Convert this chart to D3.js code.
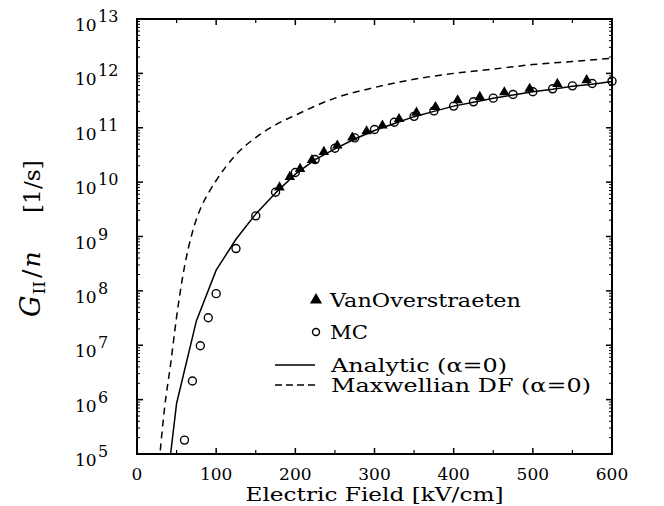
<!DOCTYPE html>
<html>
<head>
<meta charset="utf-8">
<script src="https://cdn.jsdelivr.net/npm/d3@7"></script>
<style>
  body { margin: 0; background: #fff; }
</style>
</head>
<body>
<div id="chart"></div>
<script>
// data
var analytic_E = [40, 50, 75, 100, 125, 150, 175, 200, 225, 250, 275, 300, 325, 350, 375, 400, 425, 450, 475, 500, 525, 550, 575, 600];
var analytic_G = [5.0e4, 8.5e5, 2.8e7, 2.4e8, 8.9e8, 2.6e9, 6.3e9, 1.4e10, 2.6e10, 4.1e10, 6.2e10, 8.9e10, 1.2e11, 1.6e11, 2.0e11, 2.5e11, 2.95e11, 3.5e11, 4.0e11, 4.6e11, 5.1e11, 5.8e11, 6.3e11, 7.1e11];

var maxw_E = [28, 35, 42, 50, 60, 70, 80, 90, 100, 125, 150, 175, 200, 250, 300, 350, 400, 450, 500, 550, 600];
var maxw_G = [7e4, 7.4e5, 4.0e6, 3.3e7, 2.8e8, 1.2e9, 3.2e9, 6.2e9, 1.07e10, 3.2e10, 6.6e10, 1.13e11, 1.7e11, 3.5e11, 5.5e11, 7.8e11, 1.0e12, 1.2e12, 1.45e12, 1.66e12, 1.9e12];

var mc_E = [60, 70, 80, 90, 100, 125, 150, 175, 200, 225, 250, 275, 300, 325, 350, 375, 400, 425, 450, 475, 500, 525, 550, 575, 600];
var mc_G = [1.8e5, 2.2e6, 9.8e6, 3.2e7, 8.9e7, 6.0e8, 2.4e9, 6.5e9, 1.5e10, 2.6e10, 4.2e10, 6.5e10, 9.3e10, 1.26e11, 1.62e11, 2.04e11, 2.5e11, 3.0e11, 3.5e11, 4.1e11, 4.6e11, 5.2e11, 5.9e11, 6.5e11, 7.2e11];

var vo_E = [180, 193, 206, 221, 236, 253, 272, 290, 310, 331, 353, 377, 405, 433, 464, 496, 531, 568];
var vo_G = [8.0e9, 1.25e10, 1.75e10, 2.55e10, 3.6e10, 4.7e10, 6.6e10, 8.6e10, 1.1e11, 1.45e11, 1.9e11, 2.4e11, 3.2e11, 3.7e11, 4.5e11, 5.2e11, 6.4e11, 7.5e11];

var x_ticks = [0, 100, 200, 300, 400, 500, 600];
var x_minor = [50, 150, 250, 350, 450, 550];
var y_exps = [5, 6, 7, 8, 9, 10, 11, 12, 13];

var legend_items = ["VanOverstraeten", "MC", "Analytic (\u03b1=0)", "Maxwellian DF (\u03b1=0)"];
var legend_widths = [191, 38, 176, 260];

var FONT = "'DejaVu Serif', 'Liberation Serif', 'Noto Serif', 'Times New Roman', serif";

// dimensions
var W = 664, H = 506;
var margin = { top: 19, right: 52, bottom: 52, left: 137 },
    width = W - margin.left - margin.right,
    height = H - margin.top - margin.bottom;

var svg = d3.select("#chart").append("svg")
    .attr("width", W)
    .attr("height", H)
    .attr("font-family", FONT);

var g = svg.append("g")
    .attr("transform", "translate(" + margin.left + "," + margin.top + ")");

var x = d3.scaleLinear().domain([0, 600]).range([0, width]);
var y = d3.scaleLog().domain([1e5, 1e13]).range([height, 0]);

g.append("clipPath").attr("id", "clip")
    .append("rect").attr("width", width).attr("height", height);

// minor log ticks
var y_minor = [];
for (var e = 5; e < 13; e++) {
    for (var m = 2; m <= 9; m++) y_minor.push(m * Math.pow(10, e));
}
var y_major = y_exps.map(function (d) { return Math.pow(10, d); });

function drawTicks() {
    // left & right axes
    [0, width].forEach(function (x0, i) {
        var dir = i == 0 ? 1 : -1;
        g.selectAll(null).data(y_minor).enter().append("line")
            .attr("x1", x0).attr("x2", x0 + dir * 3)
            .attr("y1", function (d) { return y(d); })
            .attr("y2", function (d) { return y(d); })
            .attr("stroke", "#000").attr("stroke-width", 1);
        g.selectAll(null).data(y_major).enter().append("line")
            .attr("x1", x0).attr("x2", x0 + dir * 6)
            .attr("y1", function (d) { return y(d); })
            .attr("y2", function (d) { return y(d); })
            .attr("stroke", "#000").attr("stroke-width", 1.5);
    });
    // bottom & top axes
    [height, 0].forEach(function (y0, i) {
        var dir = i == 0 ? -1 : 1;
        g.selectAll(null).data(x_ticks).enter().append("line")
            .attr("y1", y0).attr("y2", y0 + dir * 6)
            .attr("x1", function (d) { return x(d); })
            .attr("x2", function (d) { return x(d); })
            .attr("stroke", "#000").attr("stroke-width", 1.5);
        g.selectAll(null).data(x_minor).enter().append("line")
            .attr("y1", y0).attr("y2", y0 + dir * 4)
            .attr("x1", function (d) { return x(d); })
            .attr("x2", function (d) { return x(d); })
            .attr("stroke", "#000").attr("stroke-width", 1.2);
    });
}
drawTicks();

// curves
var line = d3.line()
    .x(function (d) { return x(d[0]); })
    .y(function (d) { return y(d[1]); });

g.append("path")
    .datum(maxw_E.map(function (d, i) { return [d, maxw_G[i]]; }))
    .attr("clip-path", "url(#clip)")
    .attr("fill", "none").attr("stroke", "#000").attr("stroke-width", 1.5)
    .attr("stroke-dasharray", "7,5")
    .attr("d", line.curve(d3.curveMonotoneX));

g.append("path")
    .datum(analytic_E.map(function (d, i) { return [d, analytic_G[i]]; }))
    .attr("clip-path", "url(#clip)")
    .attr("fill", "none").attr("stroke", "#000").attr("stroke-width", 1.5)
    .attr("d", line.curve(d3.curveLinear));

// MC circles
g.selectAll(".mc").data(mc_E).enter().append("circle")
    .attr("class", "mc")
    .attr("cx", function (d) { return x(d); })
    .attr("cy", function (d, i) { return y(mc_G[i]); })
    .attr("r", 4)
    .attr("fill", "none").attr("stroke", "#000").attr("stroke-width", 1.4);

// VanOverstraeten triangles
var tri = d3.symbol().type(d3.symbolTriangle).size(48);
g.selectAll(".vo").data(vo_E).enter().append("path")
    .attr("class", "vo")
    .attr("transform", function (d, i) { return "translate(" + x(d) + "," + y(vo_G[i]) + ")"; })
    .attr("d", tri)
    .attr("fill", "#000");

// frame
g.append("rect")
    .attr("width", width).attr("height", height)
    .attr("fill", "none").attr("stroke", "#000").attr("stroke-width", 2);

// x tick labels
g.selectAll(".xl").data(x_ticks).enter().append("text")
    .attr("x", function (d) { return x(d); })
    .attr("y", height + 26)
    .attr("text-anchor", "middle")
    .attr("font-size", 17)
    .text(function (d) { return d; });

// y tick labels: "10" and the exponent as separate texts
g.selectAll(".yl").data(y_exps).enter().append("text")
    .attr("x", -62)
    .attr("y", function (d) { return y(Math.pow(10, d)) + 12; })
    .attr("font-size", 17)
    .text("10");
g.selectAll(".ye").data(y_exps).enter().append("text")
    .attr("x", -39)
    .attr("y", function (d) { return y(Math.pow(10, d)) + 3; })
    .attr("font-size", 16)
    .text(function (d) { return d; });

// axis titles
g.append("text")
    .attr("x", width / 2).attr("y", height + 47)
    .attr("text-anchor", "middle")
    .attr("font-size", 19)
    .attr("textLength", 258).attr("lengthAdjust", "spacingAndGlyphs")
    .text("Electric Field [kV/cm]");

var yt = svg.append("text")
    .attr("transform", "translate(40,317) rotate(-90)")
    .attr("font-size", 25);
yt.append("tspan").attr("font-style", "italic").attr("font-size", 27).text("G");
yt.append("tspan").attr("dy", 5).attr("dx", 1).attr("font-size", 17).text("II");
yt.append("tspan").attr("dy", -5).attr("dx", 3).text("/");
yt.append("tspan").attr("dx", 2).attr("font-style", "italic").text("n");

svg.append("text")
    .attr("transform", "translate(40,213) rotate(-90)")
    .attr("font-size", 22)
    .attr("textLength", 53).attr("lengthAdjust", "spacingAndGlyphs")
    .text("[1/s]");

// legend
var lg = svg.append("g");
var lx = 316, ly = [300, 332, 365, 385];
lg.append("path").attr("d", d3.symbol().type(d3.symbolTriangle).size(64))
    .attr("transform", "translate(" + lx + "," + ly[0] + ")").attr("fill", "#000");
lg.append("circle").attr("cx", lx).attr("cy", ly[1]).attr("r", 3.5)
    .attr("fill", "none").attr("stroke", "#000").attr("stroke-width", 1.4);
lg.append("line").attr("x1", 275).attr("x2", 315).attr("y1", ly[2]).attr("y2", ly[2])
    .attr("stroke", "#000").attr("stroke-width", 1.5);
lg.append("line").attr("x1", 275).attr("x2", 315).attr("y1", ly[3]).attr("y2", ly[3])
    .attr("stroke", "#000").attr("stroke-width", 1.5).attr("stroke-dasharray", "7,4");
lg.selectAll(".lt").data(legend_items).enter().append("text")
    .attr("x", function (d, i) { return i < 2 ? 330 : 331; })
    .attr("y", function (d, i) { return ly[i] + 7; })
    .attr("textLength", function (d, i) { return legend_widths[i]; })
    .attr("lengthAdjust", "spacingAndGlyphs")
    .attr("font-size", 19)
    .text(function (d) { return d; });
</script>
</body>
</html>
